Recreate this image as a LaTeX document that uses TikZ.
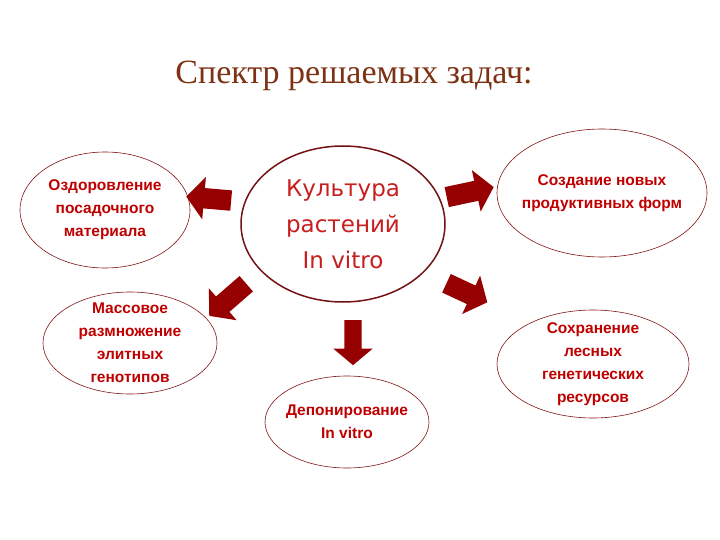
\documentclass[tikz,border=0pt]{standalone}
\usepackage{fontspec}
\setmainfont{Liberation Sans}
\newfontfamily\titlefont{Liberation Serif}
\newfontfamily\kultfont{DejaVu Sans}
\usepackage{tikz}
\usetikzlibrary{shapes.geometric}
\usetikzlibrary{shapes.arrows}
\usepackage{xcolor}
\definecolor{titlebrown}{RGB}{125,50,20}
\definecolor{arrred}{RGB}{150,0,0}
\definecolor{txtred}{RGB}{192,0,0}
\definecolor{kultred}{RGB}{200,30,30}
\definecolor{rimred}{RGB}{130,20,20}

\begin{document}
\begin{tikzpicture}[x=1pt,y=-1pt,
  oval/.style={ellipse,draw=rimred,line width=0.6pt,inner sep=0pt},
  ovaltext/.style={align=center,text=txtred,font=\bfseries\fontsize{15.5}{23}\selectfont},
  blockarr/.style={single arrow,fill=arrred,draw=none,inner xsep=0pt,inner ysep=10pt,
    single arrow head extend=11pt,single arrow tip angle=100}]
\fill [white] (0,0) rectangle (720,540);
\useasboundingbox (0,0) rectangle (720,540);

\node [text=titlebrown,font=\titlefont\fontsize{34}{38}\selectfont] (title) at (354,76) {Спектр решаемых задач:};

% centre
\node [oval,draw=rimred!90!black,line width=1.5pt,minimum width=204pt,minimum height=156pt] (kult) at (343,224) {};
\node [align=center,text=kultred,font=\kultfont\fontsize{23}{36}\selectfont] (kult-t) at (kult) {Культура\\растений\\In vitro};

% outer ellipses
\node [oval,minimum width=170pt,minimum height=116pt] (ozd) at (105,210) {};
\node [ovaltext] (ozd-t) at (ozd) {Оздоровление\\посадочного\\материала};

\node [oval,minimum width=174pt,minimum height=102pt] (mass) at (130,343) {};
\node [ovaltext] (mass-t) at (mass) {Массовое\\размножение\\элитных\\генотипов};

\node [oval,minimum width=210pt,minimum height=128pt] (sozd) at (602,193) {};
\node [ovaltext] (sozd-t) at (sozd) {Создание новых\\продуктивных форм};

\node [oval,minimum width=192pt,minimum height=108pt] (sohr) at (593,364) {};
\node [ovaltext] (sohr-t) at (sohr) {Сохранение\\лесных\\генетических\\ресурсов};

\node [oval,minimum width=164pt,minimum height=92pt] (depo) at (347,422) {};
\node [ovaltext] (depo-t) at (depo) {Депонирование\\In vitro};

% block arrows
\node [blockarr,minimum height=45pt,rotate=175] (a1) at (213,199) {};
\node [blockarr,minimum height=49pt,rotate=221] (a2) at (231,297) {};
\node [blockarr,minimum height=48pt,rotate=12] (a3) at (466,193) {};
\node [blockarr,minimum height=45pt,rotate=-25] (a4) at (463,291) {};
\node [blockarr,minimum height=45pt,rotate=-90,inner ysep=8.5pt] (a5) at (353,339) {};
\end{tikzpicture}
\end{document}
